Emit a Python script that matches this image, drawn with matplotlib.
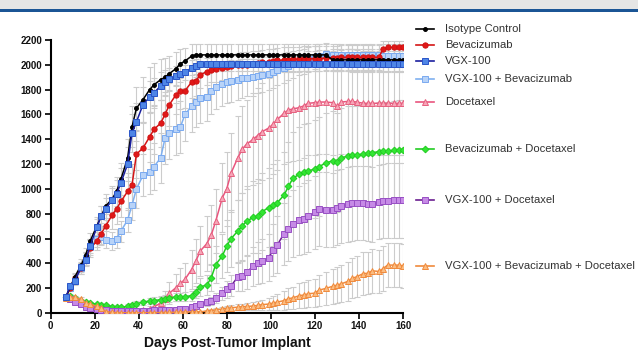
import matplotlib
matplotlib.use('Agg')
import matplotlib.pyplot as plt
from matplotlib.lines import Line2D
from matplotlib.patches import Rectangle

plt.rcParams['font.family'] = ['Liberation Sans', 'DejaVu Sans']

# measurement days (post tumor implant)
days = [7, 9, 11, 14, 16, 18, 21, 23, 25, 28, 30,
        32, 35, 37, 39, 42, 45, 47, 50, 52, 54, 57,
        59, 61, 64, 66, 68, 71, 73, 75, 78, 80, 82,
        85, 87, 89, 92, 94, 96, 99, 101, 103, 106, 108,
        110, 113, 115, 117, 120, 122, 125, 128, 130, 132, 135,
        137, 139, 142, 144, 146, 149, 151, 153, 156, 158, 160]

group_names = ["Isotype Control", "Bevacizumab", "VGX-100", "VGX-100 + Bevacizumab",
               "Docetaxel", "Bevacizumab + Docetaxel", "VGX-100 + Docetaxel",
               "VGX-100 + Bevacizumab + Docetaxel"]

# mean tumor volume per group
isotype = [130, 210, 290, 390, 470, 580, 700, 780, 860, 920, 980,
           1080, 1250, 1500, 1650, 1720, 1800, 1840, 1880, 1900, 1930, 1970,
           2010, 2030, 2070, 2080, 2080, 2080, 2080, 2080, 2080, 2080, 2080,
           2080, 2080, 2080, 2080, 2080, 2080, 2080, 2080, 2080, 2080, 2080,
           2080, 2080, 2080, 2080, 2080, 2080, 2080, 2040, 2040, 2040, 2040,
           2040, 2040, 2040, 2040, 2040, 2040, 2040, 2040, 2040, 2040, 2040]
bev = [130, 200, 280, 360, 440, 520, 580, 640, 700, 790, 840,
       900, 980, 1030, 1280, 1330, 1420, 1480, 1530, 1600, 1680, 1760,
       1790, 1790, 1860, 1870, 1920, 1945, 1960, 1965, 1975, 1985, 1990,
       1995, 2000, 2000, 2010, 2015, 2020, 2025, 2030, 2035, 2040, 2040,
       2045, 2045, 2050, 2050, 2050, 2050, 2055, 2055, 2055, 2060, 2060,
       2060, 2060, 2060, 2060, 2060, 2060, 2130, 2140, 2140, 2140, 2140]
vgx = [130, 220, 260, 370, 430, 540, 690, 780, 840, 910, 960,
       1050, 1200, 1450, 1540, 1680, 1740, 1775, 1830, 1860, 1885, 1910,
       1930, 1940, 1975, 1990, 2005, 2010, 2010, 2010, 2010, 2010, 2010,
       2010, 2010, 2010, 2010, 2010, 2010, 2010, 2010, 2010, 2010, 2010,
       2010, 2010, 2010, 2010, 2010, 2010, 2010, 2010, 2010, 2010, 2010,
       2005, 2005, 2005, 2005, 2005, 2005, 2005, 2005, 2005, 2005, 2005]
vgx_bev = [130, 200, 260, 360, 440, 530, 600, 615, 590, 580, 600,
           660, 750, 870, 1000, 1110, 1140, 1180, 1250, 1410, 1450, 1485,
           1500, 1600, 1665, 1700, 1730, 1740, 1790, 1820, 1845, 1860, 1870,
           1880, 1890, 1895, 1900, 1910, 1920, 1930, 1945, 1960, 1975, 1990,
           2005, 2020, 2030, 2045, 2060, 2075, 2085, 2080, 2080, 2080, 2080,
           2080, 2080, 2080, 2080, 2080, 2080, 2075, 2075, 2075, 2075, 2075]
doc = [130, 120, 100, 80, 70, 60, 40, 30, 25, 20, 20,
       15, 15, 20, 20, 25, 35, 50, 80, 110, 160, 205,
       240, 270, 350, 420, 500, 560, 630, 740, 930, 1000, 1130,
       1250, 1320, 1360, 1400, 1430, 1460, 1490, 1520, 1560, 1610, 1635,
       1645, 1655, 1670, 1690, 1695, 1700, 1700, 1695, 1665, 1700, 1705,
       1705, 1700, 1690, 1690, 1690, 1690, 1690, 1690, 1690, 1690, 1690]
bev_doc = [130, 140, 120, 100, 85, 80, 72, 68, 64, 52, 48,
           46, 55, 65, 75, 88, 95, 100, 108, 115, 122, 130,
           130, 132, 140, 170, 211, 225, 286, 390, 460, 540, 600,
           660, 700, 740, 770, 780, 815, 850, 870, 890, 950, 1020,
           1085, 1120, 1135, 1145, 1160, 1180, 1210, 1225, 1215, 1250, 1265,
           1270, 1272, 1282, 1287, 1292, 1300, 1304, 1304, 1312, 1317, 1317]
vgx_doc = [130, 110, 90, 70, 50, 40, 30, 25, 22, 20, 20,
           18, 18, 18, 20, 20, 20, 22, 22, 24, 26, 28,
           30, 36, 45, 55, 70, 88, 100, 120, 158, 190, 220,
           290, 300, 330, 375, 400, 420, 445, 506, 550, 640, 680,
           720, 747, 760, 780, 810, 840, 833, 830, 850, 862, 875,
           883, 886, 886, 882, 876, 895, 903, 905, 908, 908, 908]
vgx_bev_doc = [120, 130, 125, 110, 78, 70, 55, 38, 12, 5, 3,
               2, 2, 2, 2, 2, 3, 3, 3, 4, 5, 6,
               7, 8, 9, 10, 10, 15, 20, 25, 32, 38, 42,
               47, 51, 53, 56, 62, 67, 72, 80, 88, 100, 115,
               122, 140, 145, 155, 160, 185, 198, 215, 225, 235, 255,
               280, 292, 318, 320, 340, 335, 358, 386, 386, 386, 380]

# error bars (SEM) per group
err_isotype = [15, 25, 35, 45, 55, 65, 75, 85, 95, 105, 115,
               130, 150, 165, 175, 180, 180, 175, 165, 155, 145, 130,
               115, 105, 95, 90, 90, 90, 90, 90, 90, 90, 90,
               90, 90, 90, 90, 90, 90, 90, 90, 90, 90, 90,
               90, 90, 90, 90, 90, 90, 90, 90, 90, 90, 90,
               90, 90, 90, 90, 90, 90, 90, 90, 90, 90, 90]
err_bev = [15, 25, 35, 45, 55, 65, 75, 85, 95, 110, 120,
           130, 150, 170, 190, 200, 200, 200, 190, 180, 170, 160,
           150, 140, 130, 120, 110, 110, 100, 100, 100, 100, 100,
           100, 100, 100, 100, 100, 100, 100, 100, 100, 100, 100,
           100, 100, 100, 100, 100, 100, 100, 100, 100, 100, 100,
           100, 100, 100, 100, 100, 100, 60, 50, 50, 50, 50]
err_vgx = [15, 25, 30, 40, 50, 60, 70, 80, 90, 100, 110,
           120, 140, 150, 150, 140, 130, 120, 110, 100, 90, 80,
           70, 60, 60, 60, 60, 60, 60, 60, 60, 60, 60,
           60, 60, 60, 60, 60, 60, 60, 60, 60, 60, 60,
           60, 60, 60, 60, 60, 60, 60, 60, 60, 60, 60,
           60, 60, 60, 60, 60, 60, 60, 60, 60, 60, 60]
err_vgx_bev = [15, 25, 35, 45, 55, 65, 70, 70, 70, 70, 75,
               85, 100, 120, 150, 170, 180, 190, 200, 210, 210, 210,
               210, 210, 210, 200, 200, 190, 190, 180, 180, 170, 170,
               160, 160, 150, 150, 140, 140, 130, 130, 120, 120, 110,
               110, 100, 100, 100, 90, 90, 90, 90, 90, 90, 90,
               90, 90, 90, 90, 90, 90, 90, 90, 90, 90, 90]
err_doc = [15, 15, 15, 15, 15, 15, 12, 10, 10, 10, 10,
           10, 10, 12, 15, 18, 25, 35, 50, 70, 90, 110,
           120, 130, 160, 180, 200, 220, 240, 260, 280, 300, 320,
           340, 350, 360, 370, 380, 390, 400, 400, 410, 410, 420,
           420, 420, 420, 420, 420, 420, 420, 420, 420, 420, 420,
           420, 420, 420, 420, 420, 420, 420, 420, 420, 420, 420]
err_bev_doc = [15, 15, 15, 15, 12, 12, 12, 12, 12, 10, 10,
               12, 14, 16, 18, 20, 22, 25, 28, 30, 32, 35,
               35, 35, 40, 50, 70, 80, 110, 150, 180, 210, 230,
               250, 270, 280, 290, 300, 310, 320, 330, 340, 350, 360,
               370, 380, 385, 390, 395, 400, 400, 400, 400, 400, 400,
               400, 400, 400, 400, 400, 400, 400, 400, 400, 400, 400]
err_vgx_doc = [15, 15, 12, 10, 10, 8, 8, 6, 6, 6, 6,
               6, 6, 6, 6, 6, 6, 6, 6, 7, 8, 9,
               10, 12, 15, 18, 22, 28, 32, 40, 55, 70, 85,
               110, 120, 140, 160, 170, 180, 190, 210, 230, 250, 260,
               270, 280, 285, 290, 295, 300, 300, 300, 300, 300, 300,
               300, 300, 300, 300, 300, 300, 300, 300, 300, 300, 300]
err_vgx_bev_doc = [15, 15, 15, 15, 12, 10, 10, 8, 5, 3, 2,
                   2, 2, 2, 2, 2, 2, 2, 2, 3, 3, 3,
                   3, 4, 5, 6, 6, 8, 10, 12, 15, 18, 20,
                   22, 25, 27, 30, 35, 40, 45, 55, 65, 75, 85,
                   90, 100, 105, 110, 115, 125, 130, 140, 145, 150, 155,
                   160, 165, 170, 170, 175, 175, 180, 180, 180, 180, 180]

y_ticks = [0, 200, 400, 600, 800, 1000, 1200, 1400, 1600, 1800, 2000, 2200]
x_ticks = [0, 20, 40, 60, 80, 100, 120, 140, 160]


def draw_figure():
    W, H = 638, 351
    fig = plt.figure(figsize=(W / 100., H / 100.), dpi=100)
    ax = fig.add_axes([50.5 / W, 1 - 313. / H, 352.5 / W, 273. / H])

    means = [isotype, bev, vgx, vgx_bev, doc, bev_doc, vgx_doc, vgx_bev_doc]
    errs = [err_isotype, err_bev, err_vgx, err_vgx_bev, err_doc, err_bev_doc,
            err_vgx_doc, err_vgx_bev_doc]

    # line color, marker, marker face, marker edge, marker size
    style_lst = [
        ('#000000', 'o', '#000000', '#000000', 2.8),
        ('#d41515', 'o', '#e01818', '#d01010', 3.8),
        ('#1a1f9e', 's', '#4f86e6', '#2a55c8', 4.0),
        ('#7fb0f0', 's', '#b8d3f8', '#7aaaf0', 4.0),
        ('#e9557e', '^', '#f7a6b8', '#e6607f', 4.5),
        ('#22cc22', 'D', '#33e633', '#22cc22', 3.4),
        ('#6b1e90', 's', '#c68ae6', '#9850c4', 4.0),
        ('#f08a3c', '^', '#fbbd82', '#f08a3c', 4.5),
    ]
    draw_order = [4, 5, 6, 7, 3, 1, 0, 2]

    # 1st: gray error bars behind everything
    for idx in draw_order:
        ax.errorbar(days, means[idx], yerr=errs[idx], fmt='none', ecolor='#cccccc',
                    elinewidth=0.8, capsize=2, capthick=0.8, zorder=1)

    # 2nd: group curves
    for idx in draw_order:
        lc, mk, mf, me, ms = style_lst[idx]
        ax.plot(days, means[idx], color=lc, lw=1.1, marker=mk, markersize=ms,
                markerfacecolor=mf, markeredgecolor=me, markeredgewidth=0.7, zorder=3)

    # 3rd: axes
    ax.set_xlim(0, 160)
    ax.set_ylim(0, 2200)
    ax.set_xticks(x_ticks)
    ax.set_yticks(y_ticks)
    for side in ['top', 'right']:
        ax.spines[side].set_visible(False)
    for side in ['left', 'bottom']:
        ax.spines[side].set_linewidth(1.5)
    ax.tick_params(direction='out', length=4, width=1.3, labelsize=7, pad=2,
                   colors='#111111')
    for lab in ax.get_xticklabels() + ax.get_yticklabels():
        lab.set_fontweight('bold')
    fig.text(227. / W, 0.012, 'Days Post-Tumor Implant', ha='center', va='baseline',
             fontsize=10, fontweight='bold', color='#111111')

    # 4th: labels next to curve ends
    label_y = [28.5, 44.5, 61, 78.5, 102, 149, 200, 266]
    for idx, name in enumerate(group_names):
        lc, mk, mf, me, ms = style_lst[idx]
        yy = 1 - label_y[idx] / H
        fig.add_artist(Line2D([416. / W, 425. / W, 434. / W], [yy, yy, yy],
                              transform=fig.transFigure, color=lc, lw=1.2,
                              marker=mk, markersize=ms, markevery=[1],
                              markerfacecolor=mf, markeredgecolor=me,
                              markeredgewidth=0.7))
        fig.text(445. / W, yy, name, ha='left', va='center', fontsize=8.1,
                 color='#333333')

    # header band
    fig.patches.append(Rectangle((0, 1 - 8.5 / H), 1, 8.5 / H, transform=fig.transFigure,
                                 facecolor='#e5e5e5', edgecolor='none', zorder=0))
    fig.patches.append(Rectangle((0, 1 - 11.5 / H), 1, 3. / H, transform=fig.transFigure,
                                 facecolor='#1b5595', edgecolor='none', zorder=0))

    fig.savefig('out.png', dpi=100)


if __name__ == '__main__':
    draw_figure()
